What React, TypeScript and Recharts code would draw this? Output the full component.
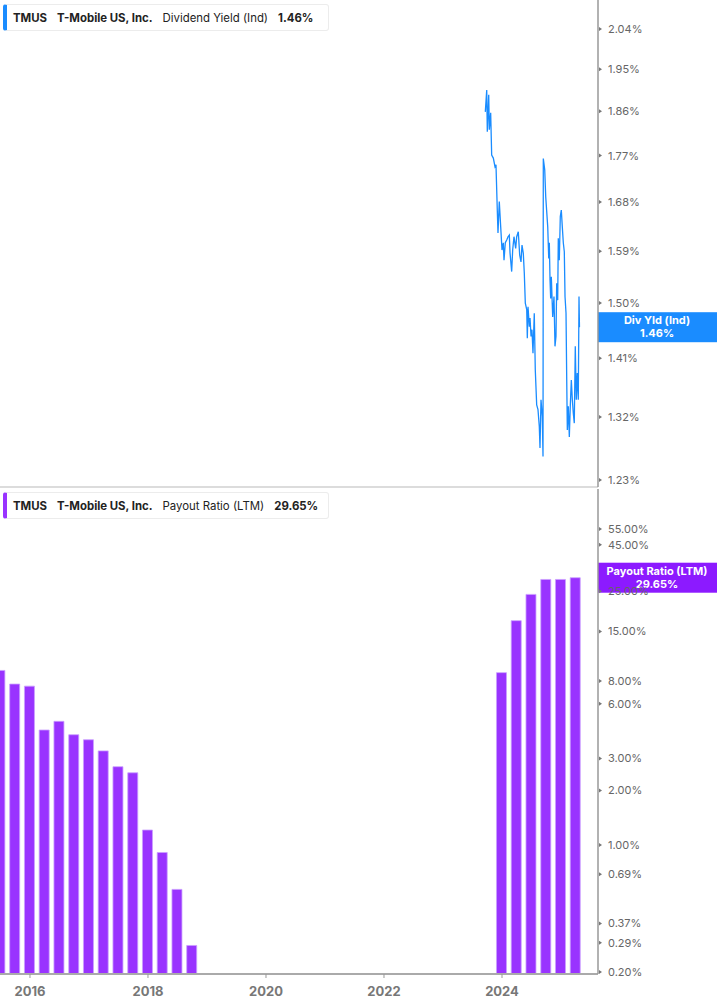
import React from 'react';
import { ComposedChart, LineChart, Line, Bar, XAxis, YAxis, ReferenceLine } from 'recharts';

// Dividend yield (indicated), decimal year -> %
const yieldDates = [
  2023.717, 2023.741, 2023.751, 2023.775, 2023.785, 2023.808, 2023.825, 2023.853, 2023.881, 2023.898,
  2023.92, 2023.932, 2023.954, 2023.978, 2024.0, 2024.022, 2024.034, 2024.056, 2024.08, 2024.102,
  2024.124, 2024.136, 2024.164, 2024.181, 2024.203, 2024.232, 2024.249, 2024.276, 2024.3, 2024.322,
  2024.339, 2024.361, 2024.378, 2024.395, 2024.419, 2024.429, 2024.441, 2024.463, 2024.475, 2024.492,
  2024.508, 2024.525, 2024.547, 2024.564, 2024.588, 2024.61, 2024.632, 2024.644, 2024.661, 2024.683,
  2024.695, 2024.7, 2024.724, 2024.741, 2024.758, 2024.775, 2024.792, 2024.802, 2024.814, 2024.825,
  2024.836, 2024.859, 2024.881, 2024.898, 2024.915, 2024.927, 2024.944, 2024.954, 2024.971, 2024.988,
  2025.005, 2025.022, 2025.039, 2025.056, 2025.068, 2025.085, 2025.097, 2025.107, 2025.124, 2025.141,
  2025.158, 2025.175, 2025.192, 2025.208, 2025.225, 2025.242, 2025.259, 2025.276, 2025.293, 2025.305,
  2025.313,
];
const yieldValues = [
  1.859, 1.905, 1.818, 1.895, 1.822, 1.857, 1.771, 1.765, 1.748, 1.752,
  1.665, 1.623, 1.681, 1.634, 1.592, 1.605, 1.574, 1.605, 1.61, 1.616,
  1.619, 1.587, 1.554, 1.592, 1.616, 1.595, 1.616, 1.625, 1.583, 1.571,
  1.601, 1.586, 1.551, 1.5, 1.489, 1.442, 1.494, 1.461, 1.475, 1.445,
  1.456, 1.418, 1.483, 1.392, 1.338, 1.331, 1.306, 1.275, 1.346, 1.321,
  1.263, 1.764, 1.742, 1.69, 1.662, 1.634, 1.577, 1.605, 1.539, 1.508,
  1.545, 1.477, 1.511, 1.429, 1.445, 1.534, 1.505, 1.613, 1.574, 1.653,
  1.665, 1.634, 1.605, 1.589, 1.511, 1.483, 1.376, 1.301, 1.336, 1.291,
  1.338, 1.376, 1.346, 1.326, 1.311, 1.429, 1.346, 1.387, 1.346, 1.511,
  1.46,
];

// Payout ratio (LTM), quarter ends
const payoutDates = [
  2015.496, 2015.747, 2015.997, 2016.247, 2016.497, 2016.748, 2016.997, 2017.247, 2017.497, 2017.748,
  2017.997, 2018.247, 2018.497, 2018.747,
  2023.997, 2024.247, 2024.497, 2024.748, 2024.997, 2025.247,
];
const payoutValues = [
  9.15, 7.7, 7.5, 4.3, 4.8, 4.05, 3.8, 3.3, 2.7, 2.5,
  1.21, 0.91, 0.57, 0.28,
  8.9, 17.2, 24.0, 29.0, 29.0, 29.65,
];

const yieldTicks = [1.23, 1.32, 1.41, 1.5, 1.59, 1.68, 1.77, 1.86, 1.95, 2.04];
const payoutTicks = [0.2, 0.29, 0.37, 0.69, 1, 2, 3, 6, 8, 15, 25, 45, 55];
const yearTicks = [2016, 2018, 2020, 2022, 2024];

const lastYield = 1.46;
const lastPayout = 29.65;

const lineData = yieldDates.map((d, i) => ({ t: d, v: yieldValues[i] }));
const barData = payoutDates.map((d, i) => ({ t: d, v: payoutValues[i] }));

const FONT = 'Inter, "Noto Sans", sans-serif';
const BLUE = '#1a8cff';
const PURPLE = '#9933ff';
const xDomain = [2015.492, 2025.627];

const RightTick = (props: any) => {
  const { x, y, payload } = props;
  return (
    <g>
      <path d={`M${x + 1},${y - 2} L${x + 4},${y} L${x + 1},${y + 2} Z`} fill="#777" />
      <text x={x + 10} y={y} dy={4} fontSize={11} fill="#666" fontFamily={FONT}>
        {payload.value.toFixed(2)}%
      </text>
    </g>
  );
};

const YearTick = (props: any) => {
  const { x, y, payload } = props;
  return (
    <g>
      <line x1={x} x2={x} y1={y} y2={y + 4} stroke="#999" />
      <text x={x} y={y + 22} textAnchor="middle" fontSize={13} fontWeight={700} fill="#777" fontFamily={FONT}>
        {payload.value}
      </text>
    </g>
  );
};

const makeBadge = (title: string, value: string, fill: string) => (props: any) => {
  const { viewBox } = props;
  const x = viewBox.x + viewBox.width;
  const cy = viewBox.y;
  return (
    <g>
      <rect x={x} y={cy - 15} width={119} height={30} fill={fill} />
      <text x={x + 59} y={cy - 3} textAnchor="middle" fontSize={11} fontWeight={700} fill="#fff" fontFamily={FONT}>
        {title}
      </text>
      <text x={x + 59} y={cy + 10} textAnchor="middle" fontSize={11} fontWeight={700} fill="#fff" fontFamily={FONT}>
        {value}
      </text>
    </g>
  );
};

const LegendBox = ({ top, color, metric, value }: { top: number; color: string; metric: string; value: string }) => (
  <div
    style={{
      position: 'absolute',
      left: 3,
      top,
      width: 326,
      height: 27,
      boxSizing: 'border-box',
      border: '1px solid #ececec',
      borderLeft: `4px solid ${color}`,
      borderRadius: 3,
      background: '#fff',
      display: 'flex',
      alignItems: 'center',
      paddingLeft: 6,
      fontFamily: FONT,
      fontSize: 11.4,
      color: '#222',
      whiteSpace: 'nowrap',
    }}
  >
    <span style={{ fontWeight: 700, marginRight: 10 }}>TMUS</span>
    <span style={{ fontWeight: 700, marginRight: 10 }}>T-Mobile US, Inc.</span>
    <span style={{ fontWeight: 400, marginRight: 10 }}>{metric}</span>
    <span style={{ fontWeight: 700 }}>{value}</span>
  </div>
);

export default function App() {
  return (
    <div style={{ position: 'absolute', left: 0, top: 0, width: 717, height: 1005, background: '#fff' }}>
      <div style={{ position: 'absolute', left: 0, top: 0 }}>
        <LineChart width={717} height={488} data={lineData} margin={{ top: 0, right: 0, left: 0, bottom: 0 }}>
          <XAxis
            dataKey="t"
            type="number"
            domain={xDomain}
            allowDataOverflow
            height={1}
            tick={false}
            tickLine={false}
            axisLine={{ stroke: '#dcdcdc', strokeWidth: 2 }}
          />
          <YAxis
            orientation="right"
            type="number"
            scale="log"
            domain={[1.2204, 2.1075]}
            allowDataOverflow
            ticks={yieldTicks}
            interval={0}
            width={119}
            tickSize={0}
            tickMargin={0}
            tickLine={false}
            axisLine={{ stroke: '#999', strokeWidth: 1.5 }}
            tick={<RightTick />}
          />
          <Line
            dataKey="v"
            type="linear"
            stroke={BLUE}
            strokeWidth={1.3}
            dot={false}
            activeDot={false}
            isAnimationActive={false}
          />
          <ReferenceLine
            y={lastYield}
            stroke="none"
            ifOverflow="visible"
            label={makeBadge('Div Yld (Ind)', '1.46%', BLUE)}
          />
        </LineChart>
      </div>
      <div style={{ position: 'absolute', left: 0, top: 488 }}>
        <ComposedChart width={717} height={517} data={barData} margin={{ top: 1, right: 0, left: 0, bottom: 0 }}>
          <XAxis
            dataKey="t"
            type="number"
            domain={xDomain}
            allowDataOverflow
            ticks={yearTicks}
            interval={0}
            height={31}
            tickSize={0}
            tickMargin={0}
            axisLine={{ stroke: '#aaa', strokeWidth: 2 }}
            tick={<YearTick />}
          />
          <YAxis
            orientation="right"
            type="number"
            scale="log"
            domain={[0.195, 91.3]}
            allowDataOverflow
            ticks={payoutTicks}
            interval={0}
            width={119}
            tickSize={0}
            tickMargin={0}
            tickLine={false}
            axisLine={{ stroke: '#999', strokeWidth: 1.5 }}
            tick={<RightTick />}
          />
          <Bar dataKey="v" fill={PURPLE} stroke="#caa0ff" strokeWidth={0.8} barSize={10} isAnimationActive={false} />
          <ReferenceLine
            y={lastPayout}
            stroke="none"
            ifOverflow="visible"
            label={makeBadge('Payout Ratio (LTM)', '29.65%', '#8c1aff')}
          />
        </ComposedChart>
      </div>
      <LegendBox top={4} color={BLUE} metric="Dividend Yield (Ind)" value="1.46%" />
      <LegendBox top={492} color={PURPLE} metric="Payout Ratio (LTM)" value="29.65%" />
    </div>
  );
}
